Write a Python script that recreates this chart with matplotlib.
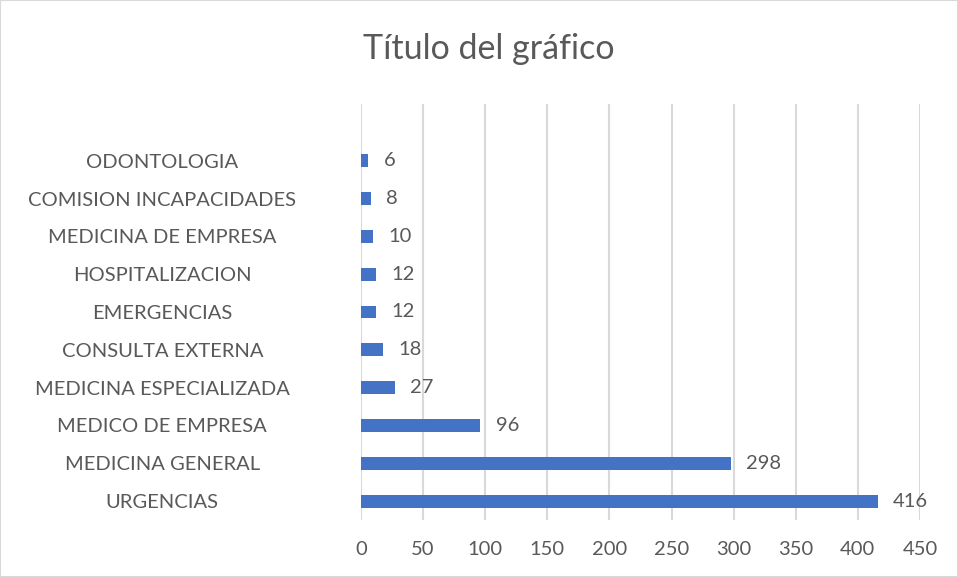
import matplotlib.pyplot as plt
from matplotlib.patches import Rectangle

# datos
categorias = ["URGENCIAS", "MEDICINA GENERAL", "MEDICO DE EMPRESA",
              "MEDICINA ESPECIALIZADA", "CONSULTA EXTERNA", "EMERGENCIAS",
              "HOSPITALIZACION", "MEDICINA DE EMPRESA",
              "COMISION INCAPACIDADES", "ODONTOLOGIA"]
valores = [416, 298, 96, 27, 18, 12, 12, 10, 8, 6]
ticks_x = [0, 50, 100, 150, 200, 250, 300, 350, 400, 450]

gris = "#595959"
plt.rcParams["font.family"] = ["Lato", "DejaVu Sans"]

fig = plt.figure(figsize=(9.58, 5.77), dpi=100)
fig.patches.append(Rectangle((0, 0), 1, 1, transform=fig.transFigure,
                             fill=False, edgecolor="#d9d9d9", linewidth=1.5))
ax = fig.add_axes([0.3768, 0.0988, 0.5835, 0.721])

pos = list(range(len(categorias)))
ax.barh(pos, valores, height=0.34, color="#4472C4", zorder=3)

for p, v in zip(pos, valores):
    ax.annotate(str(v), (v, p), xytext=(11, 0), textcoords="offset points",
                ha="left", va="center", fontsize=14.5, color=gris)

ax.set_xlim(0, 450)
ax.set_ylim(-0.5, 10.5)
ax.set_xticks(ticks_x)
ax.set_xticklabels([str(t) for t in ticks_x])
ax.set_yticks(pos)
ax.set_yticklabels(categorias)
ax.grid(axis="x", color="#d9d9d9", linewidth=1.5, zorder=0)
for s in ax.spines.values():
    s.set_visible(False)
ax.tick_params(axis="both", length=0, colors=gris, labelsize=14.5)
ax.tick_params(axis="x", pad=15)
ax.tick_params(axis="y", pad=143)
for lab in ax.get_yticklabels():
    lab.set_ha("center")

fig.text(0.510, 0.915, "Título del gráfico", ha="center", va="center",
         fontsize=24.5, color=gris)

fig.savefig("out.png", dpi=100)
